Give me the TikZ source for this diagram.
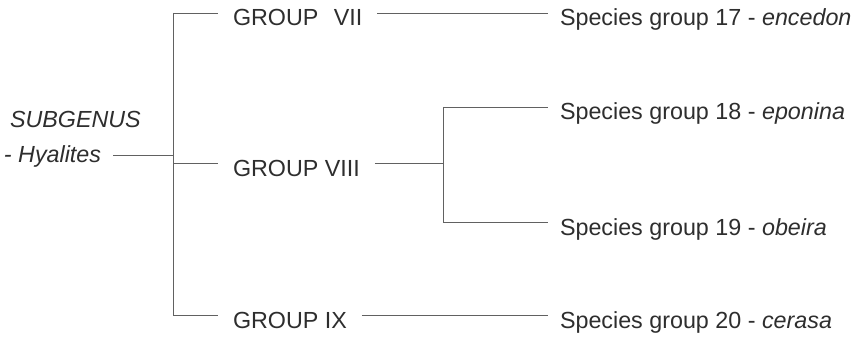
\documentclass[tikz,border=0pt]{standalone}
\usepackage{fontspec}
\setmainfont{Liberation Sans}
\begin{document}
\begin{tikzpicture}[x=1pt,y=-1pt,
  label/.style={anchor=west,inner sep=0pt,outer xsep=13pt,outer ysep=0pt,
    text height=26pt,text depth=0pt,text=black!82,
    font=\fontsize{23.3}{28}\selectfont},
  rootlabel/.style={label,outer xsep=0pt,anchor=base west,text height=17pt},
  branch/.style={draw=black!62,line width=0.8pt}]
\useasboundingbox[fill=white] (0,0) rectangle (861,339);

% subgenus name
\node[rootlabel] (sub) at (10,128) {\itshape SUBGENUS};
\node[label,text height=16pt,outer xsep=12pt] (hy) at (-8,155) {\itshape - Hyalites};

% groups (anchor sits on the outer edge, 15pt left of the text)
\node[label,outer xsep=15pt] (g7) at (218,13) {GROUP\ \hspace{9pt}VII};
\node[label,outer xsep=15pt] (g8) at (218,163) {GROUP VIII};
\node[label,outer xsep=15pt] (g9) at (218,315) {GROUP IX};

% species groups
\node[label,outer xsep=12pt] (s17) at (548,13) {Species group 17 - \textit{encedon}};
\node[label,outer xsep=12pt] (s18) at (548,107) {Species group 18 - \textit{eponina}};
\node[label,outer xsep=12pt] (s19) at (548,222) {Species group 19 - \textit{obeira}};
\node[label,outer xsep=12pt] (s20) at (548,315) {Species group 20 - \textit{cerasa}};

% junction points
\coordinate (root) at (173,155);
\coordinate (t7) at (173,13);
\coordinate (t8) at (173,163);
\coordinate (t9) at (173,315);
\coordinate (k8) at (443,163);
\coordinate (k18) at (443,107);
\coordinate (k19) at (443,222);

% tree connectors
\draw[branch] (hy.east) -- (root);
\draw[branch] (t7) -- (t9);
\draw[branch] (t7) -- (g7.west);
\draw[branch] (t8) -- (g8.west);
\draw[branch] (t9) -- (g9.west);
\draw[branch] (g7.east) -- (s17.west);
\draw[branch] (g8.east) -- (k8);
\draw[branch] (k18) -- (k19);
\draw[branch] (k18) -- (s18.west);
\draw[branch] (k19) -- (s19.west);
\draw[branch] (g9.east) -- (s20.west);
\end{tikzpicture}
\end{document}
